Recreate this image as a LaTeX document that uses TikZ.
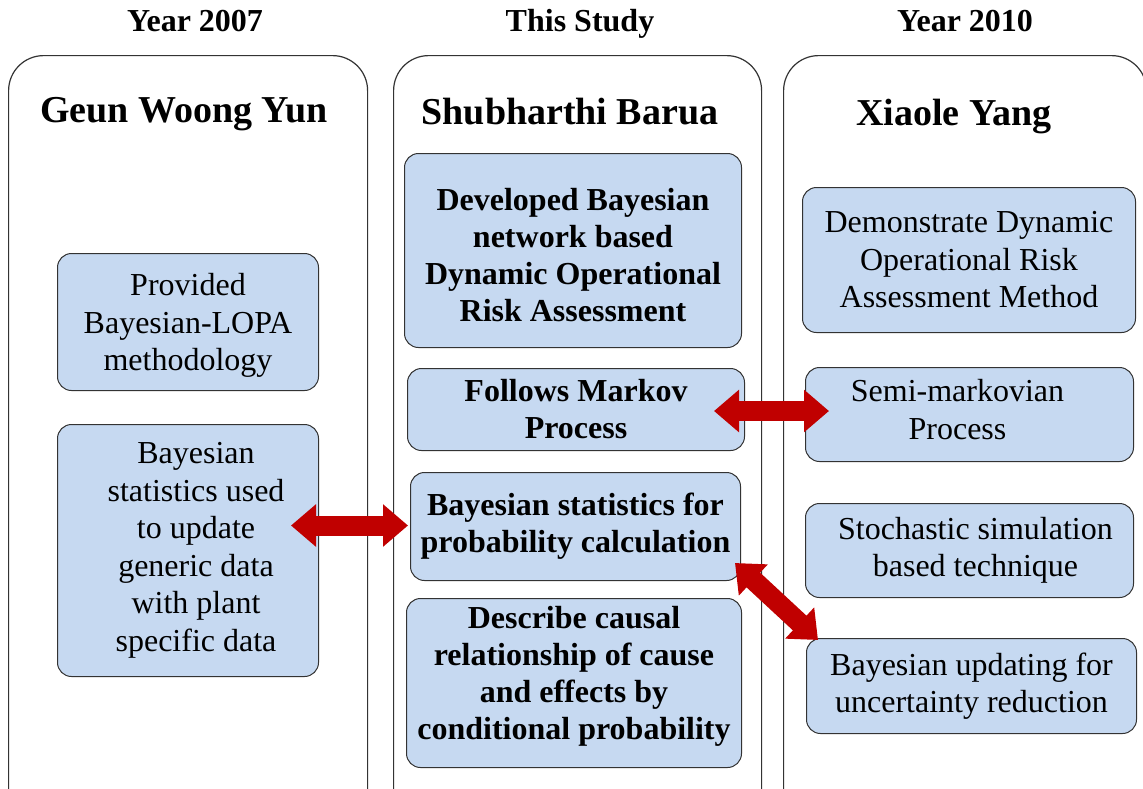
\documentclass[tikz,border=0pt]{standalone}
\usepackage{fontspec}
\setmainfont{Liberation Serif}
\usetikzlibrary{arrows.meta,calc}
\definecolor{boxblue}{HTML}{C6D9F1}
\definecolor{arrowred}{HTML}{C00000}
\begin{document}
\begin{tikzpicture}[x=1pt,y=-1pt,
  panel/.style={draw=black!80, line width=1.2pt, rounded corners=35pt, anchor=north west, inner sep=0pt},
  box/.style={draw=black!80, line width=1pt, fill=boxblue, rounded corners=14pt, align=center,
    inner sep=0pt, anchor=north west, font=\fontsize{32}{37.5}\selectfont},
  boldbox/.style={box, font=\fontsize{32}{37}\selectfont\bfseries},
  head/.style={font=\fontsize{32}{36}\selectfont\bfseries, anchor=base, inner sep=0pt},
  ptitle/.style={font=\fontsize{38}{42}\selectfont\bfseries, anchor=base, inner sep=0pt},
  blockarrow/.style={draw=arrowred, color=arrowred, line width=20pt,
    {Triangle[width=41pt,length=25pt]}-{Triangle[width=41pt,length=25pt]}}
]
\useasboundingbox (0,0) rectangle (1143,788);
\clip (0,0) rectangle (1143,788);

% column headings
\node[head] (h1) at (195,31) {Year 2007};
\node[head] (h2) at (580,31) {This Study};
\node[head] (h3) at (965,31) {Year 2010};

% column panels (they run past the lower edge)
\node[panel, minimum width=359pt, minimum height=790pt] (P1) at (8,55) {};
\node[panel, minimum width=368pt, minimum height=790pt] (P2) at (393,55) {};
\node[panel, minimum width=363pt, minimum height=790pt] (P3) at (783,55) {};

% panel titles
\node[ptitle] (t1) at (184,122) {Geun Woong Yun};
\node[ptitle] (t2) at (570,124) {Shubharthi Barua};
\node[ptitle] (t3) at (954,125) {Xiaole Yang};

% left column
\node[box, minimum width=261pt, minimum height=137pt] (L1) at (57,253)
  {\mbox{}\\[-8.5pt]Provided\\Bayesian-LOPA\\methodology};
\node[box, minimum width=261pt, minimum height=252pt] (L2) at (57,424)
  {\hspace*{16pt}Bayesian\\\hspace*{16pt}statistics used\\\hspace*{16pt}to update\\\hspace*{16pt}generic data\\\hspace*{16pt}with plant\\\hspace*{16pt}specific data};

% middle column
\node[boldbox, minimum width=337pt, minimum height=194pt] (M1) at (404,153)
  {\mbox{}\\[-5pt]Developed Bayesian\\network based\\Dynamic Operational\\Risk Assessment};
\node[boldbox, minimum width=337pt, minimum height=82pt] (M2) at (407,368)
  {Follows Markov\\Process};
\node[boldbox, minimum width=330pt, minimum height=108pt] (M3) at (410,472)
  {Bayesian statistics for\\probability calculation};
\node[boldbox, minimum width=335pt, minimum height=169pt] (M4) at (406,598)
  {Describe causal\\relationship of cause\\and effects by\\conditional probability\\[-16pt]\mbox{}};

% right column
\node[box, minimum width=333pt, minimum height=145pt] (R1) at (802,187)
  {Demonstrate Dynamic\\Operational Risk\\Assessment Method};
\node[box, minimum width=328pt, minimum height=94pt] (R2) at (805,367)
  {Semi-markovian\hspace*{24pt}\mbox{}\\Process\hspace*{24pt}\mbox{}\\[-27.5pt]\mbox{}};
\node[box, minimum width=328pt, minimum height=94pt] (R3) at (805,503)
  {\hspace*{12pt}Stochastic simulation\\\hspace*{12pt}based technique};
\node[box, minimum width=330pt, minimum height=95pt] (R4) at (806,638)
  {Bayesian updating for\\uncertainty reduction};

% links between studies
\draw[blockarrow] ($(L2.east |- M3.west)+(-28,-1)$) -- ($(M3.west)+(-2,-1)$);
\draw[blockarrow] ($(M2.east)+(-31,1.5)$) -- ($(R2.west |- M2.east)+(24,1.5)$);
\draw[blockarrow] ($(M3.south east)+(-6,-18)$) -- ($(R4.north west)+(12,2)$);
\end{tikzpicture}
\end{document}
